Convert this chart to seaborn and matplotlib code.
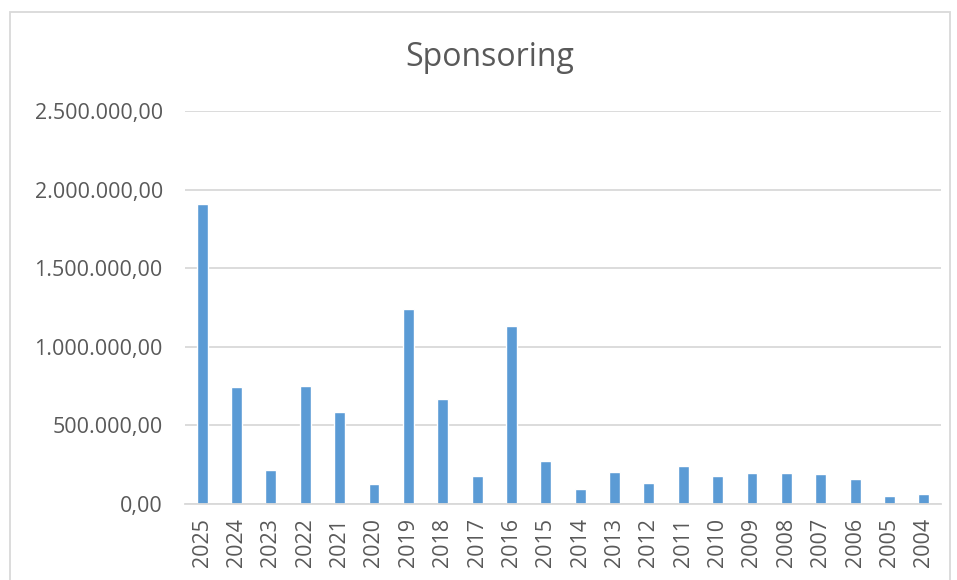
import matplotlib
matplotlib.use("Agg")
import matplotlib.pyplot as plt
import matplotlib.ticker as mticker
import seaborn as sns
import pandas as pd

# years (left to right as shown) and sponsoring amounts
years = ["2025", "2024", "2023", "2022", "2021", "2020", "2019", "2018", "2017", "2016", "2015",
         "2014", "2013", "2012", "2011", "2010", "2009", "2008", "2007", "2006", "2005", "2004"]
amounts = [1906000, 743000, 219000, 752000, 584000, 127000, 1238000, 669000, 178000, 1134000, 272000,
           96000, 206000, 134000, 244000, 179000, 197000, 199000, 191000, 159000, 48000, 64000]
y_ticks = [0, 500000, 1000000, 1500000, 2000000, 2500000]

df = pd.DataFrame({"year": years, "amount": amounts})

sns.set_style("white")
plt.rcParams['font.family'] = ['Open Sans', 'DejaVu Sans']
text_col = "#595959"
grid_col = "#D9D9D9"

fig = plt.figure(figsize=(9.57, 5.80), dpi=100)
ax = fig.add_axes([185 / 957, 1 - 504 / 580, (941 - 185) / 957, (504 - 111) / 580])

sns.barplot(data=df, x="year", y="amount", order=years, color="#5B9BD5",
            width=0.32, saturation=1, ax=ax)

def de_fmt(v, pos):
    s = f"{v:,.2f}"
    return s.replace(",", "X").replace(".", ",").replace("X", ".")

ax.set_ylim(0, 2500000)
ax.set_yticks(y_ticks)
ax.yaxis.set_major_formatter(mticker.FuncFormatter(de_fmt))
ax.set_xlim(-0.5, len(years) - 0.5)
ax.grid(axis="y", color=grid_col, linewidth=1.3)
ax.set_axisbelow(True)
for side in ["top", "right", "left"]:
    ax.spines[side].set_visible(False)
ax.spines["bottom"].set_color(grid_col)
ax.spines["bottom"].set_linewidth(1.3)
ax.tick_params(axis="both", length=0, colors=text_col, labelsize=15.5)
ax.tick_params(axis="y", pad=16)
ax.tick_params(axis="x", pad=10)
plt.setp(ax.get_xticklabels(), rotation=90)
ax.set_xlabel("")
ax.set_ylabel("")

fig.text(0.512, 1 - 57 / 580, "Sponsoring", ha="center", va="center", fontsize=23, color=text_col)

# chart border
border = plt.Rectangle((10 / 957, -0.05), (950 - 10) / 957, (580 - 12) / 580 + 0.05,
                       transform=fig.transFigure, fill=False, edgecolor=grid_col, linewidth=1.3)
fig.patches.append(border)

fig.savefig("out.png", dpi=100)
